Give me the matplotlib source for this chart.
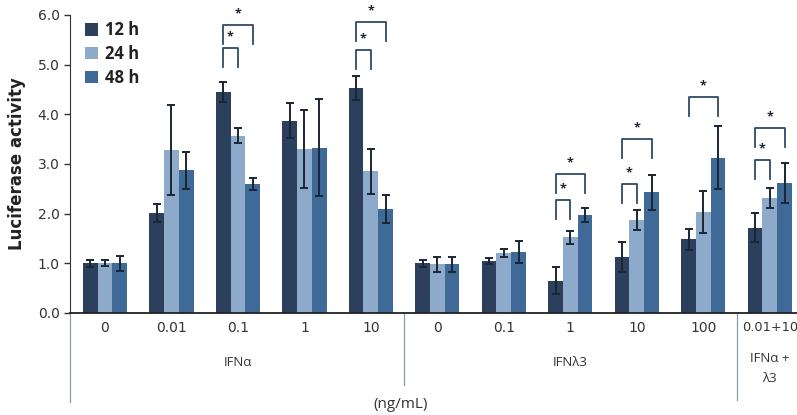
import numpy as np
import matplotlib.pyplot as plt

# doses along the x axis (11 groups)
doses = ['0', '0.01', '0.1', '1', '10', '0', '0.1', '1', '10', '100', '0.01+10']
series = ['12 h', '24 h', '48 h']
colors = ['#2c405e', '#8eaacb', '#3f6a98']

h12 = [1.00, 2.02, 4.45, 3.87, 4.53, 1.00, 1.05, 0.65, 1.12, 1.48, 1.72]
h24 = [1.00, 3.28, 3.57, 3.30, 2.85, 0.98, 1.20, 1.52, 1.87, 2.03, 2.32]
h48 = [1.00, 2.87, 2.60, 3.33, 2.10, 0.98, 1.22, 1.98, 2.43, 3.13, 2.62]
e12 = [0.07, 0.18, 0.20, 0.35, 0.25, 0.07, 0.06, 0.27, 0.30, 0.22, 0.30]
e24 = [0.06, 0.90, 0.15, 0.78, 0.45, 0.15, 0.08, 0.14, 0.20, 0.42, 0.20]
e48 = [0.15, 0.37, 0.12, 0.97, 0.28, 0.15, 0.22, 0.14, 0.35, 0.63, 0.40]

# significance brackets: (group, second bar index, bracket height)
brackets = [(2, 1, 5.33), (2, 2, 5.80), (4, 1, 5.29), (4, 2, 5.85),
            (7, 1, 2.27), (7, 2, 2.80), (8, 1, 2.60), (8, 2, 3.50),
            (9, 2, 4.35), (10, 1, 3.08), (10, 2, 3.72)]

fig = plt.figure(figsize=(7.97, 4.15), dpi=100)
ax = fig.add_axes([0.0878, 0.2458, 0.9122, 0.7181])
plt.rcParams['font.family'] = ['Open Sans', 'DejaVu Sans']

x = np.arange(len(doses))
w = 0.222
vals = [h12, h24, h48]
errs = [e12, e24, e48]
for i in range(3):
    ax.bar(x + (i - 1) * w, vals[i], w, color=colors[i], label=series[i],
           yerr=errs[i], error_kw=dict(ecolor='#1b2633', elinewidth=1.4,
                                       capsize=3, capthick=1.4), zorder=2)

leg_len = 0.38
for g, b, yb in brackets:
    x0 = g - w
    x1 = g + (b - 1) * w
    ax.plot([x0, x0, x1, x1], [yb - leg_len, yb, yb, yb - leg_len],
            color='#2f4b68', lw=1.3, clip_on=False, zorder=3)
    ax.text((x0 + x1) / 2, yb + 0.1, '*', ha='center', va='bottom',
            fontsize=9, color='#1b2633', fontweight='bold', clip_on=False)

ax.set_xlim(-0.526, 10.41)
ax.set_ylim(0, 6.0)
ax.set_yticks(np.arange(0, 6.1, 1.0))
ax.set_yticklabels([f'{v:.1f}' for v in np.arange(0, 6.1, 1.0)],
                   fontsize=10, color='#333333')
ax.set_xticks(x)
ax.set_xticklabels(doses, fontsize=10, color='#333333')
ax.get_xticklabels()[-1].set_fontsize(9.3)
ax.tick_params(axis='x', length=0, pad=6)
ax.tick_params(axis='y', length=4, width=1, direction='out', color='#333333')
for s in ['top', 'right']:
    ax.spines[s].set_visible(False)
ax.spines['left'].set_color('#333333')
ax.spines['bottom'].set_color('#222222')
ax.spines['bottom'].set_linewidth(1.3)

ax.set_ylabel('Luciferase activity', fontsize=12, fontweight='bold',
              color='#222222', labelpad=8)

# group separators below the axis
for xs, yb in [(-0.526, -1.8), (4.5, -1.45), (9.5, -1.75)]:
    ax.plot([xs, xs], [0, yb], color='#8d9aa6', lw=0.9, clip_on=False)

ax.text(2, -0.99, 'IFN\u03b1', ha='center', va='center', fontsize=9.5, color='#333333')
ax.text(7, -0.99, 'IFN\u03bb3', ha='center', va='center', fontsize=9.5, color='#333333')
ax.text(10, -1.12, 'IFN\u03b1 +\n\u03bb3', ha='center', va='center', fontsize=9.5,
        color='#333333', linespacing=1.75)
fig.text(0.502, 0.025, '(ng/mL)', ha='center', va='center', fontsize=11,
         color='#333333')

ax.legend(loc='upper left', bbox_to_anchor=(0.0, 1.03), frameon=False,
          prop={'size': 12, 'weight': 'bold'}, handlelength=0.8,
          handleheight=0.8, handletextpad=0.4, labelspacing=0.35,
          labelcolor='#222222')

fig.savefig('out.png', dpi=100)
